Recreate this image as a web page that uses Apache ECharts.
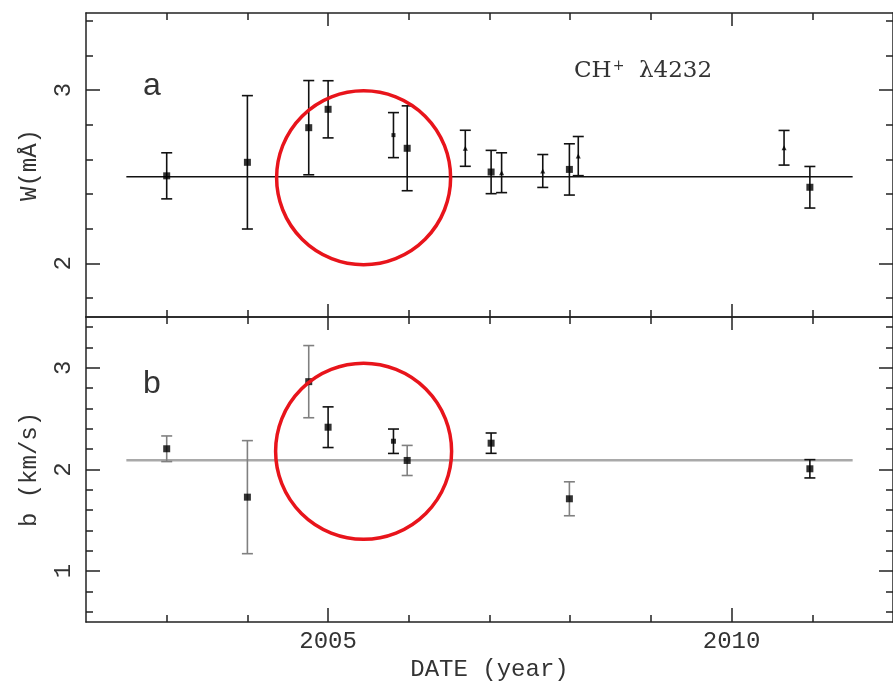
<!DOCTYPE html>
<html>
<head>
<meta charset="utf-8">
<script src="https://cdn.jsdelivr.net/npm/echarts@6/dist/echarts.min.js"></script>
<style>
  html, body { margin: 0; padding: 0; background: #fff; }
  #chart { width: 893px; height: 683px; }
</style>
</head>
<body>
<div id="chart"></div>
<script>
// ---------------- DATA ----------------
// X range (year) and tick positions
const xRange = [2002, 2012];
const xMinorTicks = [2003, 2004, 2005, 2006, 2007, 2008, 2009, 2010, 2011];
const xMajorTicks = [2005, 2010];

// Panel a: W (mÅ)
const wRange = [1.69, 3.445];
const wMinorTicks = [1.8, 2.0, 2.2, 2.4, 2.6, 2.8, 3.0, 3.2, 3.4];
const wMajorTicks = [2, 3];
const wSqX   = [2003.0, 2004.0, 2004.76, 2005.0, 2005.98, 2007.02, 2007.99, 2010.97];
const wSqY   = [2.505, 2.583, 2.783, 2.889, 2.664, 2.527, 2.542, 2.439];
const wSqErr = [0.133, 0.385, 0.272, 0.165, 0.245, 0.125, 0.148, 0.12];
const wDotX   = [2005.81];
const wDotY   = [2.74];
const wDotErr = [0.13];
const wTriX   = [2006.70, 2007.15, 2007.66, 2008.10, 2010.65];
const wTriY   = [2.664, 2.523, 2.533, 2.619, 2.667];
const wTriErr = [0.104, 0.115, 0.095, 0.113, 0.10];
const wMean = 2.5;

// Panel b: b (km/s)
const bRange = [0.5, 3.5];
const bMinorTicks = [0.6, 0.8, 1.0, 1.2, 1.4, 1.6, 1.8, 2.0, 2.2, 2.4, 2.6, 2.8, 3.0, 3.2, 3.4];
const bMajorTicks = [1, 2, 3];
const bGrayX   = [2003.0, 2004.0, 2004.76, 2005.98, 2007.99];
const bGrayY   = [2.204, 1.728, 2.864, 2.089, 1.712];
const bGrayErr = [0.126, 0.556, 0.355, 0.148, 0.167];
const bBlackX   = [2005.0, 2007.02, 2010.97];
const bBlackY   = [2.416, 2.259, 2.007];
const bBlackErr = [0.20, 0.10, 0.09];
const bDotX   = [2005.81];
const bDotY   = [2.278];
const bDotErr = [0.12];
const bMean = 2.09;

const meanSpan = [2002.5, 2011.5];

// Highlight circles (centre in data units)
const circleA = [2005.44, 2.494];
const circleB = [2005.44, 2.18];

// ---------------- CHART ----------------
const AX = '#222';
const MONO = 'Liberation Mono';

function zip3(xs, ys, es) { return xs.map((x, i) => [x, ys[i], es[i]]); }
function zip2(xs, ys) { return xs.map((x, i) => [x, ys[i]]); }

function xAx(g, pos, ticks, len, line, labels, name) {
  return {
    type: 'value', gridIndex: g, position: pos, min: xRange[0], max: xRange[1],
    axisLine: { show: line, onZero: false, lineStyle: { color: AX, width: 1.5 } },
    axisTick: { show: true, inside: true, length: len, customValues: ticks, lineStyle: { color: AX, width: 1.5 } },
    axisLabel: labels ? { show: true, customValues: labels, margin: 8, color: '#333',
                          fontFamily: MONO, fontSize: 24, formatter: v => String(v) } : { show: false },
    splitLine: { show: false },
    name: name || '', nameLocation: 'middle', nameGap: 36,
    nameTextStyle: { fontFamily: MONO, fontSize: 24, color: '#333' }
  };
}
function yAx(g, pos, range, ticks, len, line, labels, name) {
  return {
    type: 'value', gridIndex: g, position: pos, min: range[0], max: range[1],
    axisLine: { show: line, onZero: false, lineStyle: { color: AX, width: 1.5 } },
    axisTick: { show: true, inside: true, length: len, customValues: ticks, lineStyle: { color: AX, width: 1.5 } },
    axisLabel: labels ? { show: true, customValues: labels, rotate: 90, margin: 10, color: '#333',
                          fontFamily: MONO, fontSize: 24, formatter: v => String(v) } : { show: false },
    splitLine: { show: false },
    name: name || '', nameLocation: 'middle', nameGap: 44, nameRotate: 90,
    nameTextStyle: { fontFamily: MONO, fontSize: 24, color: '#333' }
  };
}

function errSeries(data, xi, yi, color, width) {
  return {
    type: 'custom', xAxisIndex: xi, yAxisIndex: yi, z: 3, clip: false,
    data: data,
    renderItem: function (params, api) {
      const x = api.value(0), y = api.value(1), e = api.value(2);
      const top = api.coord([x, y + e]);
      const bot = api.coord([x, y - e]);
      const cw = 5.5;
      const st = { stroke: color, lineWidth: width };
      return { type: 'group', children: [
        { type: 'line', shape: { x1: top[0], y1: top[1], x2: bot[0], y2: bot[1] }, style: st },
        { type: 'line', shape: { x1: top[0] - cw, y1: top[1], x2: top[0] + cw, y2: top[1] }, style: st },
        { type: 'line', shape: { x1: bot[0] - cw, y1: bot[1], x2: bot[0] + cw, y2: bot[1] }, style: st }
      ]};
    }
  };
}
function markSeries(data, xi, yi, symbol, size) {
  return { type: 'scatter', xAxisIndex: xi, yAxisIndex: yi, z: 4, data: data,
           symbol: symbol, symbolSize: size, itemStyle: { color: '#000' }, silent: true };
}
function meanSeries(y, xi, yi, color, width) {
  return { type: 'line', xAxisIndex: xi, yAxisIndex: yi, z: 2, symbol: 'none',
           data: [[meanSpan[0], y], [meanSpan[1], y]],
           lineStyle: { color: color, width: width }, silent: true };
}
function circleSeries(c, xi, yi, r) {
  return {
    type: 'custom', xAxisIndex: xi, yAxisIndex: yi, z: 10, clip: false, silent: true,
    data: [c],
    renderItem: function (params, api) {
      const p = api.coord([api.value(0), api.value(1)]);
      return { type: 'circle', shape: { cx: p[0], cy: p[1], r: r },
               style: { fill: 'none', stroke: '#e8141b', lineWidth: 3.5 } };
    }
  };
}

const chart = echarts.init(document.getElementById('chart'), null, { renderer: 'canvas' });
const option = {
  animation: false,
  backgroundColor: '#fff',
  grid: [
    { left: 86, top: 13, width: 813, height: 304 },
    { left: 86, top: 317, width: 813, height: 305 }
  ],
  xAxis: [
    xAx(0, 'bottom', xMinorTicks, 7, true),                // 0
    xAx(0, 'bottom', xMajorTicks, 13, false),              // 1
    xAx(0, 'top', xMinorTicks, 7, true),                   // 2
    xAx(0, 'top', xMajorTicks, 13, false),                 // 3
    xAx(1, 'bottom', xMinorTicks, 7, true),                // 4
    xAx(1, 'bottom', xMajorTicks, 14, false, xMajorTicks, 'DATE (year)'), // 5
    xAx(1, 'top', xMinorTicks, 7, true),                   // 6
    xAx(1, 'top', xMajorTicks, 13, false)                  // 7
  ],
  yAxis: [
    yAx(0, 'left', wRange, wMinorTicks, 7, true, null, 'W(mÅ)'),  // 0
    yAx(0, 'left', wRange, wMajorTicks, 14, false, wMajorTicks),  // 1
    yAx(0, 'right', wRange, wMinorTicks, 7, true),                // 2
    yAx(0, 'right', wRange, wMajorTicks, 14, false),              // 3
    yAx(1, 'left', bRange, bMinorTicks, 7, true, null, 'b (km/s)'), // 4
    yAx(1, 'left', bRange, bMajorTicks, 14, false, bMajorTicks),  // 5
    yAx(1, 'right', bRange, bMinorTicks, 7, true),                // 6
    yAx(1, 'right', bRange, bMajorTicks, 14, false)               // 7
  ],
  series: [
    meanSeries(wMean, 0, 0, '#111', 1.6),
    errSeries(zip3(wSqX, wSqY, wSqErr), 0, 0, '#111', 1.6),
    errSeries(zip3(wDotX, wDotY, wDotErr), 0, 0, '#111', 1.6),
    errSeries(zip3(wTriX, wTriY, wTriErr), 0, 0, '#111', 1.6),
    markSeries(zip2(wSqX, wSqY), 0, 0, 'rect', 7),
    markSeries(zip2(wDotX, wDotY), 0, 0, 'rect', 4),
    markSeries(zip2(wTriX, wTriY), 0, 0, 'triangle', 5),

    meanSeries(bMean, 4, 4, '#a9a9a9', 2.5),
    errSeries(zip3(bGrayX, bGrayY, bGrayErr), 4, 4, '#808080', 1.6),
    errSeries(zip3(bBlackX, bBlackY, bBlackErr), 4, 4, '#111', 1.6),
    errSeries(zip3(bDotX, bDotY, bDotErr), 4, 4, '#111', 1.6),
    markSeries(zip2(bGrayX, bGrayY), 4, 4, 'rect', 7),
    markSeries(zip2(bBlackX, bBlackY), 4, 4, 'rect', 7),
    markSeries(zip2(bDotX, bDotY), 4, 4, 'rect', 5),

    circleSeries(circleA, 0, 0, 87),
    circleSeries(circleB, 4, 4, 88)
  ],
  graphic: [
    { type: 'text', left: 143, top: 70, z: 20,
      style: { text: 'a', fontFamily: 'Liberation Sans', fontSize: 32, fill: '#333' } },
    { type: 'text', left: 143, top: 368, z: 20,
      style: { text: 'b', fontFamily: 'Liberation Sans', fontSize: 32, fill: '#333' } },
    { type: 'text', left: 574, top: 59, z: 20,
      style: { text: '{m|CH}{s|+}{m|  λ4232}', fill: '#333',
        rich: {
          m: { fontFamily: 'DejaVu Serif', fontSize: 23, fill: '#333' },
          s: { fontFamily: 'DejaVu Serif', fontSize: 14, fill: '#333', verticalAlign: 'top', padding: [0, 0, 10, 1] }
        } } }
  ]
};
chart.setOption(option);
</script>
</body>
</html>
